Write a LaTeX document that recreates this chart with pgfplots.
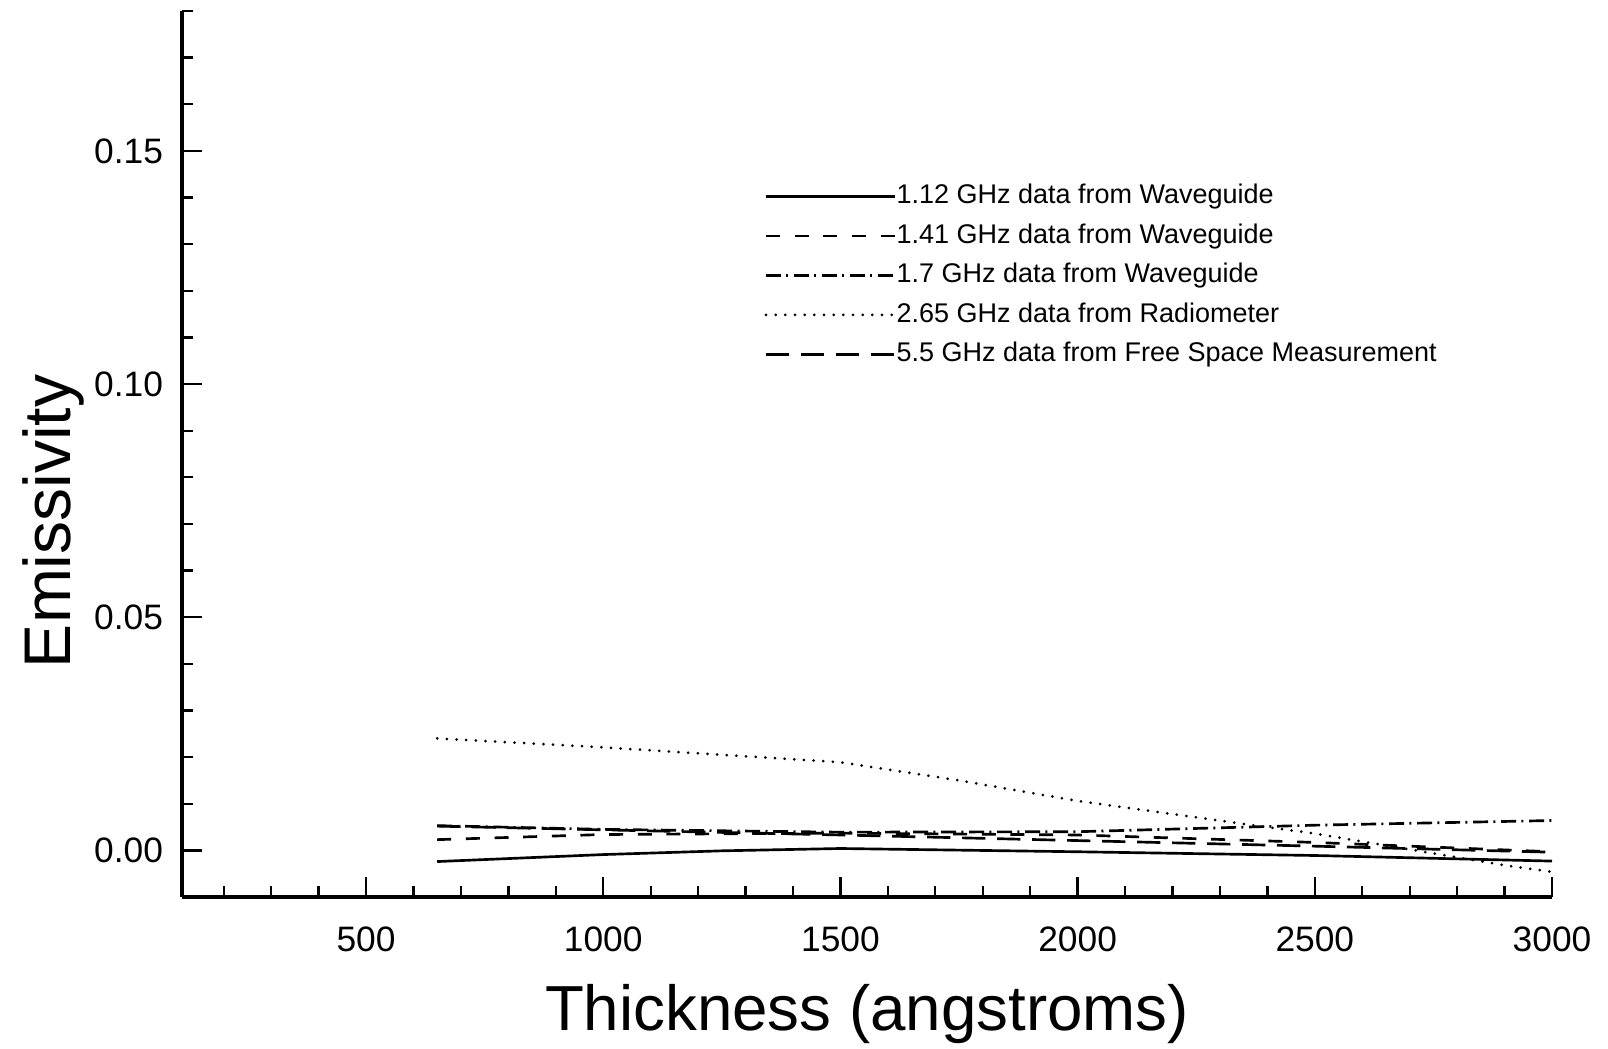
\documentclass[border=0pt]{standalone}
\usepackage{fontspec}
\setmainfont{Liberation Sans}
\usepackage{pgfplots}
\pgfplotsset{compat=1.18}

\begin{document}
\begin{tikzpicture}
% page frame, 1px of the reference = 0.3bp
\useasboundingbox (-54.6bp,-45.6bp) rectangle (427.8bp,269.1bp);
\begin{axis}[
  scale only axis,
  width=411bp,
  height=265.8bp,
  xmin=112, xmax=3000,
  ymin=-0.01, ymax=0.18,
  axis x line*=bottom,
  axis y line*=left,
  axis line style={line width=1.1bp},
  tick align=inside,
  xtick={500,1000,1500,2000,2500,3000},
  minor xtick={200,300,...,3000},
  ytick={0,0.05,0.1,0.15},
  minor ytick={-0.01,0,0.01,0.02,0.03,0.04,0.05,0.06,0.07,0.08,0.09,0.1,0.11,0.12,0.13,0.14,0.15,0.16,0.17,0.18},
  major tick length=6bp,
  minor tick length=3.2bp,
  every tick/.style={black,line width=0.7bp},
  /pgf/number format/assume math mode=true,
  yticklabel={\pgfmathprintnumber[fixed,fixed zerofill,precision=2]{\tick}},
  xticklabel={\pgfmathprintnumber[fixed,1000 sep={}]{\tick}},
  scaled y ticks=false,
  scaled x ticks=false,
  tick label style={font=\fontsize{10.6bp}{12.5bp}\selectfont},
  yticklabel style={inner sep=0pt,xshift=-5.5bp},
  xticklabel style={inner sep=0pt,yshift=-8.7bp},
  xlabel={Thickness (angstroms)},
  ylabel={Emissivity},
  xlabel style={font=\fontsize{19.1bp}{22bp}\selectfont,at={(axis description cs:0.5,-0.1512)},anchor=base},
  ylabel style={font=\fontsize{19.8bp}{22bp}\selectfont,at={(axis description cs:-0.0815,0.424)},anchor=base},
  legend cell align=left,
  legend image code/.code={\draw[#1] (0bp,0bp) -- (38.7bp,0bp);},
  legend style={
    at={(axis description cs:0.4247,0.806)},anchor=north west,
    draw=none,fill=none,inner sep=0pt,row sep=4.15bp,
    font=\fontsize{8.1bp}{9.5bp}\selectfont,
    nodes={inner sep=0pt,text height=6bp,text depth=1.7bp},
    /tikz/every even column/.append style={column sep=2.1bp},
  },
]
\addplot[black,line width=0.8bp] coordinates {
 (650,-0.0024) (1000,-0.0009) (1250,-0.0001) (1500,0.0004) (2000,-0.0003) (2500,-0.0011) (3000,-0.0023)};
\addplot[black,line width=0.8bp,dash pattern=on 4.2bp off 4.4bp] coordinates {
 (650,0.0023) (1000,0.0034) (1500,0.0037) (2000,0.0033) (2500,0.0017) (3000,-0.0003)};
\addplot[black,line width=0.8bp,dash pattern=on 4.5bp off 1.6bp on 0.6bp off 1.7bp] coordinates {
 (650,0.0053) (1000,0.0045) (1500,0.0039) (2000,0.0040) (2500,0.0054) (3000,0.0064)};
\addplot[black,line width=0.9bp,line cap=round,dash pattern=on 0bp off 2.9bp] coordinates {
 (650,0.0240) (1000,0.0221) (1500,0.0189) (1750,0.0150) (2000,0.0106) (2340,0.0058) (2500,0.0036) (2900,-0.0032) (3000,-0.0046)};
\addplot[black,line width=0.8bp,dash pattern=on 7bp off 3.5bp] coordinates {
 (650,0.0052) (1000,0.0044) (1500,0.0033) (2000,0.0021) (2500,0.0009) (3000,-0.0004)};
\legend{1.12 GHz data from Waveguide,1.41 GHz data from Waveguide,1.7 GHz data from Waveguide,2.65 GHz data from Radiometer,5.5 GHz data from Free Space Measurement}
\end{axis}
\end{tikzpicture}
\end{document}
